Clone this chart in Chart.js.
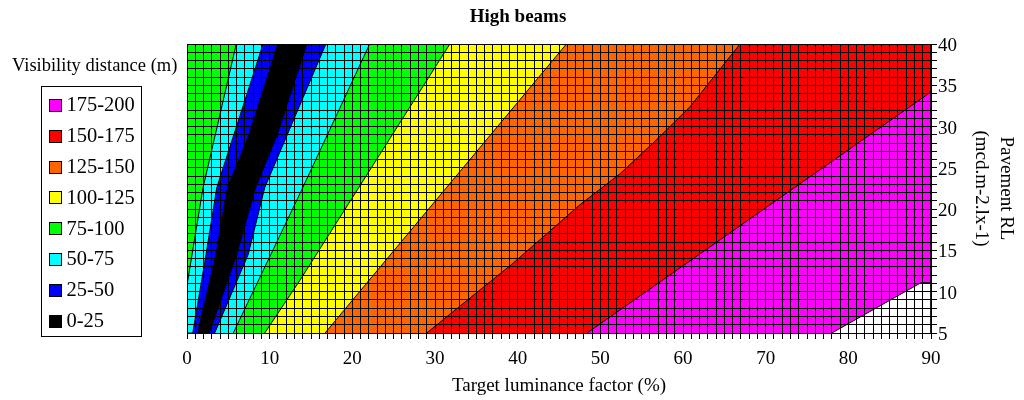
<!DOCTYPE html>
<html>
<head>
<meta charset="utf-8">
<title>High beams</title>
<script src="https://cdn.jsdelivr.net/npm/chart.js@4/dist/chart.umd.min.js"></script>
<style>
  html, body { margin: 0; padding: 0; background: #ffffff; }
  #wrap { width: 1024px; height: 400px; }
</style>
</head>
<body>
<div id="wrap"><canvas id="chart" width="1024" height="400"></canvas></div>
<script>
// Axis ranges (target luminance factor, pavement RL)
const xRange = [0, 90];
const yRange = [5, 40];
const xLabelEvery = 10;
const yLabelEvery = 5;

// Visibility distance bands, highest first (key order)
const bandLabels = ['175-200', '150-175', '125-150', '100-125', '75-100', '50-75', '25-50', '0-25'];
const bandColors = ['#FF00FF', '#FF0000', '#FF6600', '#FFFF00', '#00FF00', '#00FFFF', '#0000FF', '#000000'];

// Contour lines between neighbouring bands, each listed from its lower end upward.
// The distance dips to zero along a narrow valley near the left, so the
// bands 25-100 appear on both sides of it.
const contourGreenCyanLeft   = [{x: 0, y: 10.8}, {x: 1.94, y: 22.6}, {x: 5.96, y: 40}];
const contourCyanBlueLeft    = [{x: 0.7, y: 5}, {x: 2.3, y: 14.5}, {x: 3.6, y: 22.6}, {x: 9.2, y: 40}];
const contourBlueBlackLeft   = [{x: 1.3, y: 5}, {x: 3.5, y: 14.5}, {x: 4.9, y: 22.6}, {x: 7.5, y: 29}, {x: 11.0, y: 40}];
const contourBlackBlueRight  = [{x: 2.7, y: 5}, {x: 6.0, y: 14.5}, {x: 8.3, y: 22.6}, {x: 10.9, y: 29}, {x: 14.5, y: 40}];
const contourBlueCyanRight   = [{x: 3.35, y: 5}, {x: 7.4, y: 14.5}, {x: 9.4, y: 22.6}, {x: 16.8, y: 40}];
const contourCyanGreenRight  = [{x: 5.6, y: 5}, {x: 13.67, y: 21.9}, {x: 22.1, y: 40}];
const contourGreenYellow     = [{x: 9.4, y: 5}, {x: 13.67, y: 11.4}, {x: 31.8, y: 40}];
const contourYellowOrange    = [{x: 16.7, y: 5}, {x: 45.9, y: 40}];
const contourOrangeRed       = [{x: 29.0, y: 5}, {x: 39.5, y: 13.5}, {x: 47.5, y: 20.5}, {x: 52.4, y: 24.3},
                                {x: 56.8, y: 28.4}, {x: 60.85, y: 32.4}, {x: 64.07, y: 36.45}, {x: 66.9, y: 40}];
const contourRedMagenta      = [{x: 48.4, y: 5}, {x: 90, y: 34.2}];
const contourMagentaWhite    = [{x: 78, y: 5}, {x: 88.8, y: 11.1}, {x: 90, y: 11.1}];

// Painting order, left to right: each entry fills everything right of its contour.
const layers = [
  {edge: null,                  color: bandColors[4]},
  {edge: contourGreenCyanLeft,  color: bandColors[5]},
  {edge: contourCyanBlueLeft,   color: bandColors[6]},
  {edge: contourBlueBlackLeft,  color: bandColors[7]},
  {edge: contourBlackBlueRight, color: bandColors[6]},
  {edge: contourBlueCyanRight,  color: bandColors[5]},
  {edge: contourCyanGreenRight, color: bandColors[4]},
  {edge: contourGreenYellow,    color: bandColors[3]},
  {edge: contourYellowOrange,   color: bandColors[2]},
  {edge: contourOrangeRed,      color: bandColors[1]},
  {edge: contourRedMagenta,     color: bandColors[0]},
  {edge: contourMagentaWhite,   color: '#FFFFFF'}
];

// Closed outline of the part of the plot lying right of a contour.
function regionRightOf(edge) {
  const [x0, x1] = xRange, [y0, y1] = yRange;
  if (!edge) return [{x: x0, y: y0}, {x: x0, y: y1}, {x: x1, y: y1}, {x: x1, y: y0}];
  const pts = edge.map(p => ({x: p.x, y: p.y}));
  const last = pts[pts.length - 1];
  if (last.y >= y1) pts.push({x: x1, y: y1});
  pts.push({x: x1, y: y0});
  const first = pts[0];
  if (first.y > y0) pts.push({x: x0, y: y0});
  return pts;
}

// Later layers sit on top, and Chart.js paints dataset 0 last.
const datasets = layers.map((layer, i) => ({
  data: regionRightOf(layer.edge),
  showLine: true,
  fill: 'shape',
  backgroundColor: layer.color,
  borderColor: '#000000',
  borderWidth: 1,
  pointRadius: 0,
  tension: 0,
  order: layers.length - i
}));

const serif = '"Liberation Serif", "Times New Roman", serif';
Chart.defaults.font.family = serif;
Chart.defaults.color = '#000000';

// Key panel on the left: heading, framed box, swatches and ranges.
const bandKey = {
  id: 'bandKey',
  afterDraw(chart) {
    const ctx = chart.ctx;
    ctx.save();
    ctx.fillStyle = '#000000';
    ctx.font = '18.5px ' + serif;
    ctx.textAlign = 'left';
    ctx.textBaseline = 'alphabetic';
    ctx.fillText('Visibility distance (m)', 12, 71);

    ctx.strokeStyle = '#000000';
    ctx.lineWidth = 1;
    ctx.strokeRect(41.5, 86.5, 100, 250);

    ctx.font = '20.5px ' + serif;
    ctx.textBaseline = 'middle';
    bandLabels.forEach((label, i) => {
      const cy = 105 + i * 30.8;
      ctx.fillStyle = bandColors[i];
      ctx.fillRect(49.5, Math.round(cy - 6) + 0.5, 12, 12);
      ctx.strokeRect(49.5, Math.round(cy - 6) + 0.5, 12, 12);
      ctx.fillStyle = '#000000';
      ctx.fillText(label, 66.5, cy + 1);
    });
    ctx.restore();
  }
};

new Chart(document.getElementById('chart'), {
  type: 'scatter',
  data: { datasets },
  options: {
    responsive: false,
    animation: false,
    devicePixelRatio: 1,
    layout: { padding: { left: 12, right: 0, top: 0, bottom: 0 } },
    plugins: {
      legend: { display: false },
      tooltip: { enabled: false },
      title: {
        display: true,
        text: 'High beams',
        font: { size: 19, weight: 'bold', family: serif },
        color: '#000000',
        padding: { top: 5.5, bottom: 15.7 }
      }
    },
    scales: {
      x: {
        type: 'linear',
        position: 'bottom',
        min: xRange[0],
        max: xRange[1],
        afterFit(s) { s.height = 67; },
        grid: { color: '#000000', lineWidth: 1, tickLength: 6, z: 1, drawTicks: true },
        border: { display: true, color: '#000000', width: 1, z: 2 },
        ticks: {
          stepSize: 1,
          maxTicksLimit: 1000,
          autoSkip: false,
          maxRotation: 0,
          padding: 9,
          font: { size: 19 },
          callback: v => (v % xLabelEvery === 0 ? String(v) : '')
        },
        title: {
          display: true,
          text: 'Target luminance factor (%)',
          font: { size: 19 },
          padding: { top: 0, bottom: 2.4 }
        }
      },
      y: {
        type: 'linear',
        position: 'right',
        min: yRange[0],
        max: yRange[1],
        afterFit(s) { s.width = 93; },
        grid: { color: '#000000', lineWidth: 1, tickLength: 6, z: 1, drawTicks: true },
        border: { display: true, color: '#000000', width: 1, z: 2 },
        ticks: {
          stepSize: 1,
          maxTicksLimit: 1000,
          autoSkip: false,
          padding: 1,
          labelOffset: 2,
          font: { size: 19 },
          callback: v => (v % yLabelEvery === 0 ? String(v) : '')
        },
        title: {
          display: true,
          text: ['Pavement RL', '(mcd.m-2.lx-1)'],
          font: { size: 19, lineHeight: 1.35 },
          padding: { top: 5, bottom: 0 }
        }
      },
      keySpace: {
        type: 'linear',
        position: 'left',
        display: true,
        afterFit(s) { s.width = 175; },
        grid: { display: false },
        border: { display: false },
        ticks: { display: false }
      }
    }
  },
  plugins: [bandKey]
});
</script>
</body>
</html>
